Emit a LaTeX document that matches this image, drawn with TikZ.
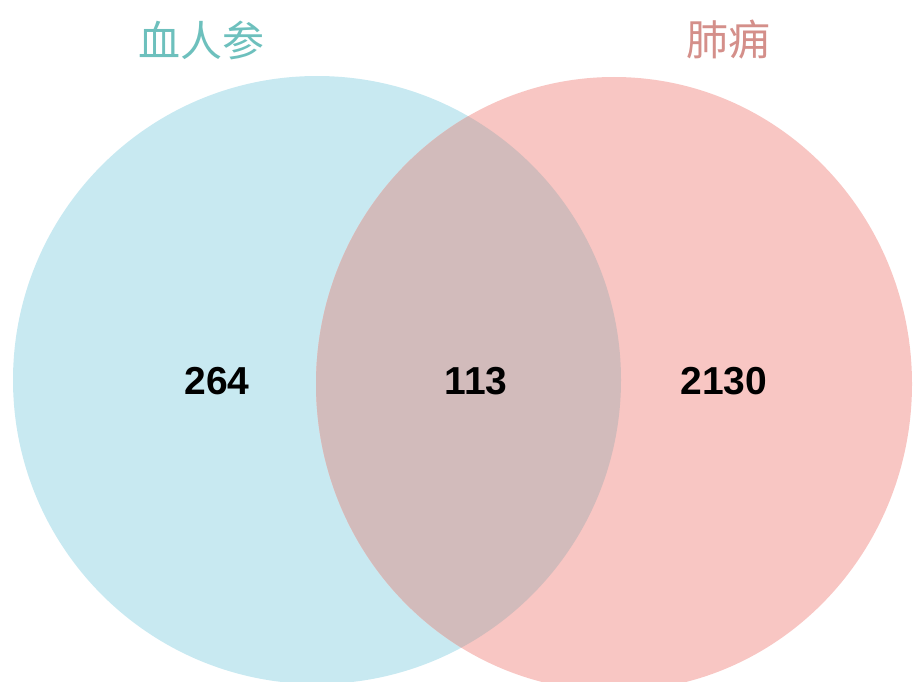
\documentclass[tikz,border=0pt]{standalone}
\usepackage{fontspec}
\setmainfont{Liberation Sans}
\newfontfamily\cjk{Noto Sans CJK SC}
\definecolor{leftfill}{HTML}{C8E9F1}
\definecolor{rightfill}{HTML}{F8C6C3}
\definecolor{midfill}{HTML}{D2BBBB}
\definecolor{lefttitle}{HTML}{6DC0BD}
\definecolor{righttitle}{HTML}{D48F8A}
\tikzset{
  numlabel/.style={font=\fontsize{39}{39}\selectfont\bfseries, text=black, inner sep=0pt},
  titlelabel/.style={font=\cjk\fontsize{42}{42}\selectfont, inner sep=0pt}
}
\begin{document}
\begin{tikzpicture}[x=1pt,y=-1pt]
\useasboundingbox (0,0) rectangle (913,682);
\begin{scope}
\clip (0,0) rectangle (913,682);
\fill[leftfill] (317,380) ellipse [x radius=304, y radius=304];
\fill[rightfill] (614,384) ellipse [x radius=298, y radius=307];
\begin{scope}
\clip (317,380) ellipse [x radius=304, y radius=304];
\fill[midfill] (614,384) ellipse [x radius=298, y radius=307];
\end{scope}
\end{scope}
\node[titlelabel, text=lefttitle] (t1) at (201,40) {血人参};
\node[titlelabel, text=righttitle] (t2) at (728,40) {肺痈};
\node[numlabel] (n1) at (217,381) {264};
\node[numlabel] (n2) at (476,381) {113};
\node[numlabel] (n3) at (724,381) {2130};
\end{tikzpicture}
\end{document}
